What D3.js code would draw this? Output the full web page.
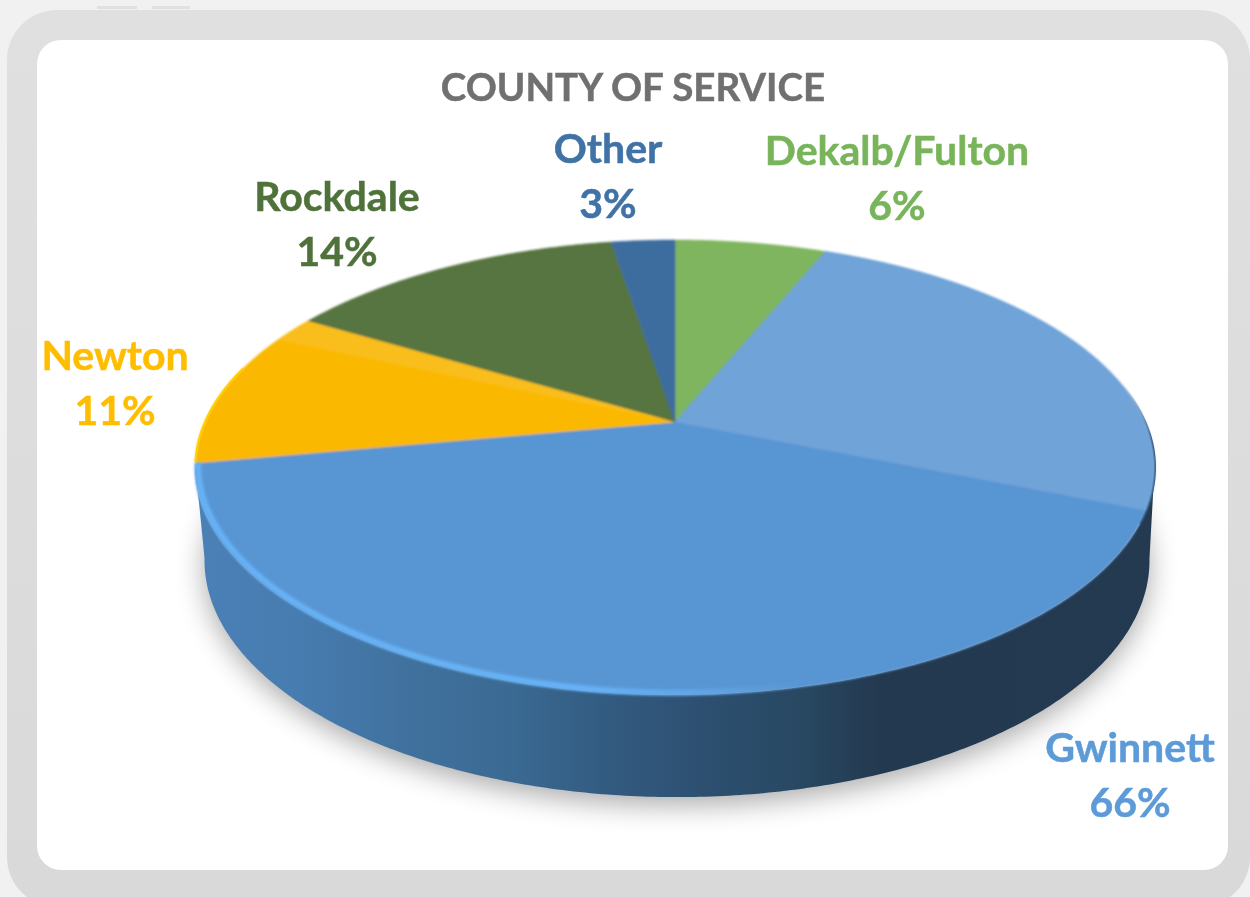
<!DOCTYPE html>
<html><head><meta charset="utf-8">
<script src="https://cdn.jsdelivr.net/npm/d3@7/dist/d3.min.js"></script>
<style>html,body{margin:0;padding:0;background:#f1f1f1;overflow:hidden}svg{display:block}text{font-family:Lato,"Open Sans",sans-serif;font-weight:700;text-anchor:middle;stroke-width:.5;paint-order:stroke}</style>
</head><body><svg id="c" width="1250" height="897"></svg>
<script>
const title = "COUNTY OF SERVICE";
const categories = ["Dekalb/Fulton", "Gwinnett", "Newton", "Rockdale", "Other"];
const values = [6.2, 65.9, 11.4, 13.9, 2.6];
const faceColors = ["#7fb55e", "#5895d3", "#fbb800", "#56743f", "#3d6d9e"];
const labelColors = ["#78b45a", "#5b9ad8", "#ffbd00", "#50723a", "#3f72a6"];
const labelCenters = [[897, 165], [1130, 762], [115, 370], [337, 211], [608, 163]];
const sideStops = [[205,"#4a80b6"],[300,"#477cb0"],[400,"#41729f"],[500,"#3b6b94"],[600,"#335c82"],[700,"#2d5071"],[800,"#284862"],[880,"#23394f"],[1150,"#233a50"]];

const svg = d3.select("#c"), defs = svg.append("defs");
const toRad = d => d * Math.PI / 180;
// perspective view of the round pie top
const K = -0.2, A = 470, B = 218.4, CX = 675, CY = 422;
const top3 = t => { const x = Math.sin(t), y = -Math.cos(t), w = 1 + K * y; return [CX + A * x / w, CY + B * y / w]; };
const base3 = t => { const [x, y] = top3(t); return [677 + (x - 675) * 0.985, 560 + (y - 467) * 1.04]; };
const line = d3.line();
const arcPts = (f, a0, a1) => { const n = Math.max(2, Math.ceil(Math.abs(a1 - a0) / 0.01)); return d3.range(n + 1).map(i => f(a0 + (a1 - a0) * i / n)); };
const slicePath = (a0, a1) => line([[CX, CY], ...arcPts(top3, a0, a1)]) + "Z";

const blur = (id, s) => defs.append("filter").attr("id", id).attr("x", "-10%").attr("y", "-10%").attr("width", "120%").attr("height", "120%").append("feGaussianBlur").attr("stdDeviation", s);
blur("shadow", 14); blur("soft", 0.9); blur("glow", 1.6); blur("txt", 0.4);

const sg = defs.append("linearGradient").attr("id", "side").attr("gradientUnits", "userSpaceOnUse").attr("x1", 195).attr("x2", 1155).attr("y1", 0).attr("y2", 0);
sideStops.forEach(([x, c]) => sg.append("stop").attr("offset", (x - 195) / 960).attr("stop-color", c));
const hg = defs.append("linearGradient").attr("id", "hl").attr("gradientUnits", "userSpaceOnUse").attr("x1", 195).attr("x2", 800).attr("y1", 0).attr("y2", 0);
[[0, 1], [0.65, 1], [0.85, 0.5], [1, 0]].forEach(([o, a]) => hg.append("stop").attr("offset", o).attr("stop-color", "#66b2f6").attr("stop-opacity", a));
const rg = defs.append("linearGradient").attr("id", "rim").attr("gradientUnits", "userSpaceOnUse").attr("x1", 0).attr("x2", 0).attr("y1", 385).attr("y2", 440);
rg.append("stop").attr("offset", 0).attr("stop-color", "#23394f").attr("stop-opacity", 0); rg.append("stop").attr("offset", 1).attr("stop-color", "#23394f").attr("stop-opacity", 1);

// frame
svg.append("rect").attr("x", 97).attr("y", 6).attr("width", 40).attr("height", 3).attr("fill", "#e0e0e0");
svg.append("rect").attr("x", 152).attr("y", 6).attr("width", 38).attr("height", 3).attr("fill", "#e0e0e0");
const fg = defs.append("linearGradient").attr("id", "frame").attr("x1", 0).attr("x2", 0).attr("y1", 0).attr("y2", 1);
fg.append("stop").attr("offset", 0).attr("stop-color", "#e0e0e0"); fg.append("stop").attr("offset", 1).attr("stop-color", "#d9d9d9");
svg.append("rect").attr("x", 7).attr("y", 10).attr("width", 1243).attr("height", 897).attr("rx", 50).attr("fill", "url(#frame)");
svg.append("rect").attr("x", 37).attr("y", 40).attr("width", 1191).attr("height", 830).attr("rx", 24).attr("fill", "#fff");

// shadow and side wall
const A1 = toRad(101), A2 = toRad(259);
svg.append("path").attr("d", line(arcPts(base3, 0, 2 * Math.PI).map(([x, y]) => [x, y + 8])) + "Z").attr("fill", "#000").attr("opacity", 0.33).attr("filter", "url(#shadow)");
svg.append("path").attr("d", line([...arcPts(top3, A1, A2), ...arcPts(base3, A2, A1)]) + "Z").attr("fill", "url(#side)");
svg.append("path").attr("d", line(arcPts(top3, toRad(80), toRad(115)))).attr("fill", "none").attr("stroke", "url(#rim)").attr("stroke-width", 2.5).attr("stroke-linecap", "round");

// top face
const pie = d3.pie().sort(null)(values);
const face = svg.append("g").attr("filter", "url(#soft)");
face.selectAll("path.slice").data(pie).join("path").attr("class", "slice")
  .attr("d", d => slicePath(d.startAngle, d.endAngle)).attr("fill", (d, i) => faceColors[i])
  .attr("stroke", (d, i) => faceColors[i]).attr("stroke-width", 0.6);
// sheen on the back of the disc
const sheen = [[22.3, 112, "#70a3d8"], [294, 300.6, "#f9bd1e"]];
face.selectAll("path.sheen").data(sheen).join("path").attr("class", "sheen")
  .attr("d", d => slicePath(toRad(d[0]), toRad(d[1]))).attr("fill", d => d[2]);
// bright bevel along the front edge of the disc
const bevelShift = ([x, y]) => [x + (675 - x) * 0.006, y - 2.5];
svg.append("path").attr("d", line(arcPts(top3, toRad(150), toRad(259)).map(bevelShift))).attr("fill", "none").attr("stroke", "url(#hl)").attr("stroke-width", 6).attr("filter", "url(#glow)");
svg.append("path").attr("d", line(arcPts(top3, toRad(259.8), toRad(285)))).attr("fill", "none").attr("stroke", "#ffd000").attr("stroke-width", 2);

// text
const text = svg.append("g").attr("filter", "url(#txt)");
text.append("text").attr("x", 633).attr("y", 101).attr("font-size", 38.5).attr("fill", "#6f6f6f").attr("stroke", "#6f6f6f").text(title);
categories.forEach((c, i) => {
  const [x, y] = labelCenters[i];
  text.append("text").attr("x", x).attr("y", y).attr("font-size", 41).attr("fill", labelColors[i]).attr("stroke", labelColors[i]).text(c);
  text.append("text").attr("x", x).attr("y", y + 55).attr("font-size", 41).attr("fill", labelColors[i]).attr("stroke", labelColors[i]).text(Math.round(values[i]) + "%");
});
</script></body></html>
